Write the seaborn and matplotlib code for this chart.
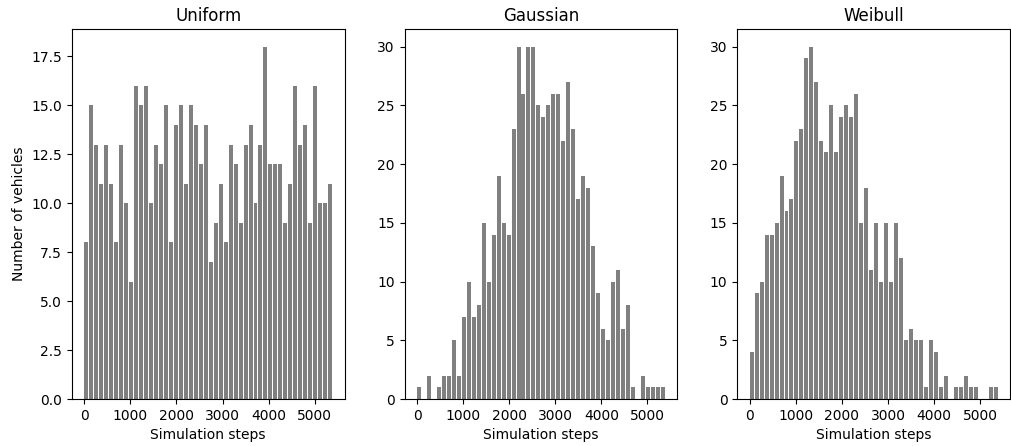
import numpy as np
import pandas as pd
import matplotlib
matplotlib.use('Agg')
import matplotlib.pyplot as plt
import seaborn as sns

# --- DATA (counts per bin, 50 bins) ---
TITLES = ['Uniform', 'Gaussian', 'Weibull']

UNIFORM = [8, 15, 13, 11, 13, 11, 8, 13, 10, 6,
           16, 15, 16, 10, 13, 12, 15, 8, 14, 15,
           11, 15, 14, 12, 14, 7, 9, 11, 8, 13,
           12, 9, 13, 14, 10, 13, 18, 12, 12, 12,
           9, 11, 16, 13, 14, 9, 16, 10, 10, 11]

GAUSSIAN = [1, 0, 2, 0, 1, 2, 2, 5, 2, 7,
            10, 7, 8, 15, 10, 14, 19, 15, 14, 23,
            30, 26, 30, 30, 25, 24, 25, 26, 26, 22,
            27, 23, 17, 19, 18, 13, 9, 6, 5, 10,
            11, 6, 8, 1, 0, 2, 1, 1, 1, 1]

WEIBULL = [4, 9, 10, 14, 14, 15, 19, 16, 17, 22,
           23, 29, 30, 27, 22, 21, 25, 21, 24, 25,
           24, 26, 15, 18, 11, 15, 10, 15, 10, 15,
           12, 5, 6, 5, 5, 1, 5, 4, 1, 2,
           0, 1, 1, 2, 1, 1, 0, 0, 1, 1]

STEP_MIN = -12
STEP_MAX = 5390
N_BINS = 50

# --- PLOT ---
edges = np.linspace(STEP_MIN, STEP_MAX, N_BINS + 1)
centers = (edges[:-1] + edges[1:]) / 2

fig, axes = plt.subplots(1, 3, figsize=(10.12, 4.46), dpi=100)
fig.subplots_adjust(left=0.071, right=0.998, top=0.935, bottom=0.105, wspace=0.22)

for ax, title, counts in zip(axes, TITLES, [UNIFORM, GAUSSIAN, WEIBULL]):
    df = pd.DataFrame({'step': centers, 'count': counts})
    sns.histplot(data=df, x='step', weights='count', bins=list(edges), shrink=0.8,
                 color='#808080', alpha=1, linewidth=0, ax=ax)
    ax.set_title(title)
    ax.set_xlabel('Simulation steps')
    ax.set_ylabel('')
    ax.set_xticks([0, 1000, 2000, 3000, 4000, 5000])

axes[0].set_ylabel('Number of vehicles')

fig.savefig('out.png', dpi=100)
